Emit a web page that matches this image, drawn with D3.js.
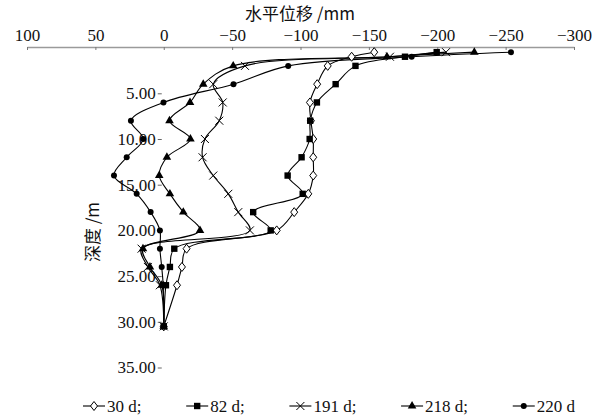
<!DOCTYPE html>
<html><head><meta charset="utf-8">
<script src="https://cdn.jsdelivr.net/npm/d3@7"></script>
<style>body{margin:0;background:#fff}svg{display:block}</style>
</head><body><svg id="c" width="602" height="416"></svg>
<script>
// ---- data ----
const depths = [0.5, 1, 2, 4, 6, 8, 10, 12, 14, 16, 18, 20, 22, 24, 26, 30.5];
const d30  = [-153.9, -137.4, -119.9, -112.2, -106.9, -107.6, -109.3, -109.3, -109.3, -105.7, -95.4, -82.6, -16.7, -13.3, -9.7, 0];
const d82  = [-199.6, -176.4, -140.2, -125.7, -112.0, -107.1, -106.7, -100.8, -90.6, -101.6, -65.4, -78.2, -7.7, -4.5, -1.6, 0];
const d191 = [-206.4, -165.4, -59.4, -36.2, -43.1, -40.6, -30.1, -28.4, -36.2, -47.2, -54.5, -63.0, 16.2, 11.6, 2.8, 0];
const d218 = [-227.1, -163.2, -50.8, -28.9, -19.2, -4.2, -19.5, -2.3, 3.3, -4.5, -14.3, -26.5, 15.2, 10.1, 1.5, 0];
const d220 = [-253.9, -181.3, -91.0, -51.0, 0.2, 24.0, 15.0, 27.1, 36.4, 19.8, 9.6, 2.8, 2.8, 1.5, 0.4, 0];
const seriesNames = ["30 d", "82 d", "191 d", "218 d", "220 d"];
const seriesValues = [d30, d82, d191, d218, d220];
const markerTypes = ["diamond", "square", "x", "triangle", "circle"];
const xTicks = [100, 50, 0, -50, -100, -150, -200, -250, -300];
const yTicks = [5, 10, 15, 20, 25, 30, 35];
const xTitle = "水平位移 /mm";
const yTitle = "深度 /m";

// ---- chart ----
const svg = d3.select("#c");
const serif = "'Liberation Serif','DejaVu Serif',serif";
const cjk = "'Noto Sans CJK SC','Liberation Serif',serif";

const x = d3.scaleLinear().domain([100, -300]).range([27, 574]);
const y = d3.scaleLinear().domain([0, 35]).range([47.6, 367.5]);

// top axis
const xAxis = d3.axisTop(x).tickValues(xTicks).tickSizeInner(-3).tickSizeOuter(0).tickPadding(6);
const gx = svg.append("g").attr("transform", `translate(0,${y(0) - 0.6})`).call(xAxis);
gx.select(".domain").attr("stroke", "#9a9a9a").attr("stroke-width", 1.6);
gx.selectAll(".tick line").attr("stroke", "#777");
gx.selectAll("text").attr("font-family", serif).attr("font-size", 17).attr("fill", "#111");

// left axis (at x = 0 value)
const yAxis = d3.axisLeft(y).tickValues(yTicks).tickFormat(d3.format(".2f")).tickSizeInner(4).tickSizeOuter(0).tickPadding(2);
const gy = svg.append("g").attr("transform", `translate(${x(0) - 2},0)`).call(yAxis);
gy.select(".domain").remove();
gy.selectAll(".tick line").attr("stroke", "#666");
gy.selectAll("text").attr("font-family", serif).attr("font-size", 17).attr("fill", "#111");

// titles
svg.append("text").attr("x", 300).attr("y", 20).attr("text-anchor", "middle")
  .attr("font-family", cjk).attr("font-size", 17).attr("fill", "#111").text(xTitle);
svg.append("text").attr("transform", `translate(99,232) rotate(-90)`).attr("text-anchor", "middle")
  .attr("font-family", cjk).attr("font-size", 17).attr("fill", "#111").text(yTitle);

function drawMarker(g, type, cx, cy) {
  const s = g.append("g").attr("transform", `translate(${cx},${cy})`);
  if (type === "diamond") {
    s.append("path").attr("d", "M0,-4.5L3.5,0L0,4.5L-3.5,0Z").attr("fill", "#fff").attr("stroke", "#000").attr("stroke-width", 1);
  } else if (type === "square") {
    s.append("rect").attr("x", -3.2).attr("y", -3.2).attr("width", 6.4).attr("height", 6.4).attr("fill", "#000");
  } else if (type === "x") {
    s.append("path").attr("d", "M-4,-4L4,4M-4,4L4,-4").attr("stroke", "#000").attr("stroke-width", 1);
  } else if (type === "triangle") {
    s.append("path").attr("d", d3.symbol(d3.symbolTriangle, 32)()).attr("fill", "#000");
  } else {
    s.append("circle").attr("r", 3).attr("fill", "#000");
  }
}

const line = d3.line().x(d => x(d[0])).y(d => y(d[1])).curve(d3.curveCatmullRom.alpha(0.5));
const plot = svg.append("g");
seriesValues.forEach((vals, i) => {
  const pts = vals.map((v, j) => [v, depths[j]]);
  plot.append("path").datum(pts).attr("d", line).attr("fill", "none").attr("stroke", "#000").attr("stroke-width", 1.1);
});
seriesValues.forEach((vals, i) => {
  const g = plot.append("g");
  vals.forEach((v, j) => drawMarker(g, markerTypes[i], x(v), y(depths[j])));
});

// legend
const lg = svg.append("g");
let lx = 83;
const ly = 406;
const items = [];
seriesNames.forEach((name, i) => {
  const it = lg.append("g");
  it.append("line").attr("x1", 0).attr("x2", 22).attr("y1", 0).attr("y2", 0).attr("stroke", "#000").attr("stroke-width", 1.1);
  drawMarker(it, markerTypes[i], 11, 0);
  const t = it.append("text").attr("x", 24).attr("y", 5.5).attr("font-family", serif).attr("font-size", 17).attr("fill", "#111")
    .text(name + (i < seriesNames.length - 1 ? ";" : ""));
  items.push({ g: it, w: 24 + t.node().getComputedTextLength() });
});
const total = items.reduce((a, b) => a + b.w, 0);
const gap = (575 - 83 - total) / (items.length - 1);
items.forEach(it => { it.g.attr("transform", `translate(${lx},${ly})`); lx += it.w + gap; });
</script></body></html>
